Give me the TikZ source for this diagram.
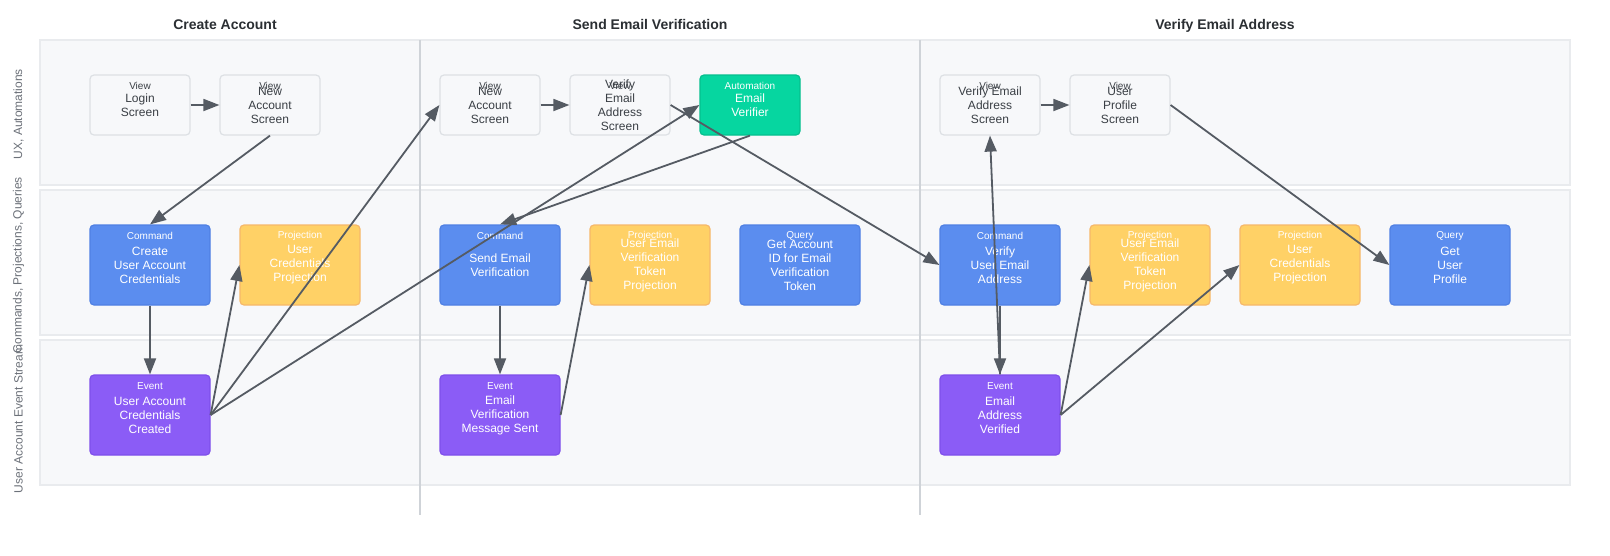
\documentclass[tikz,border=0pt]{standalone}
\usepackage{fontspec}
\setmainfont{Liberation Sans}
\usetikzlibrary{arrows.meta}
\definecolor{lanefill}{HTML}{F7F8FA}
\definecolor{laneborder}{HTML}{E9EBEE}
\definecolor{divider}{HTML}{CFD3D8}
\definecolor{viewfill}{HTML}{F7F8FA}
\definecolor{viewborder}{HTML}{DDE0E4}
\definecolor{viewtext}{HTML}{3A3F45}
\definecolor{autofill}{HTML}{06D6A0}
\definecolor{autoborder}{HTML}{05BF8E}
\definecolor{cmdfill}{HTML}{5B8DEF}
\definecolor{cmdborder}{HTML}{4F80E3}
\definecolor{projfill}{HTML}{FFD166}
\definecolor{projborder}{HTML}{F6B86A}
\definecolor{evtfill}{HTML}{8B5CF6}
\definecolor{evtborder}{HTML}{7E4FEA}
\definecolor{arrowcol}{HTML}{555B63}
\definecolor{titlecol}{HTML}{2B2F33}
\definecolor{lanetext}{HTML}{6C7179}
\newcommand{\mainsz}{\fontsize{12}{14}\selectfont}
\newcommand{\typesz}{\fontsize{10}{12}\selectfont}
\begin{document}
\begin{tikzpicture}[x=1pt,y=-1pt,
  lanebox/.style={fill=lanefill,draw=laneborder,line width=1.5pt},
  divline/.style={draw=divider,line width=1.8pt},
  titletxt/.style={font=\fontsize{14}{16}\selectfont\bfseries,text=titlecol,inner sep=0pt,anchor=base},
  lanetxt/.style={font=\mainsz,text=lanetext,rotate=90,inner sep=0pt},
  box/.style={rectangle,rounded corners=4pt,line width=1.2pt,inner sep=0pt,align=center,font=\mainsz},
  viewbox/.style={box,fill=viewfill,draw=viewborder,text=viewtext,minimum width=100pt,minimum height=60pt},
  autobox/.style={box,fill=autofill,draw=autoborder,text=white,minimum width=100pt,minimum height=60pt},
  bigbox/.style={box,text=white,minimum width=120pt,minimum height=80pt},
  cmdbox/.style={bigbox,fill=cmdfill,draw=cmdborder},
  projbox/.style={bigbox,fill=projfill,draw=projborder},
  evtbox/.style={bigbox,fill=evtfill,draw=evtborder},
  typelbl/.style={font=\typesz,inner sep=0pt},
  flow/.style={draw=arrowcol,line width=1.8pt,-{Triangle[length=16pt,width=12pt]},shorten >=0pt}
]
\useasboundingbox (0,0) rectangle (1610,555);
\fill[white] (0,0) rectangle (1610,555);

% lanes
\draw[lanebox] (40,40) rectangle (1570,185);
\draw[lanebox] (40,190) rectangle (1570,335);
\draw[lanebox] (40,340) rectangle (1570,485);

% dividers
\draw[divline] (420,40) -- (420,515);
\draw[divline] (920,40) -- (920,515);

% titles
\node[titletxt] (t1) at (225,29) {Create Account};
\node[titletxt] (t2) at (650,29) {Send Email Verification};
\node[titletxt] (t3) at (1225,29) {Verify Email Address};

% lane labels
\node[lanetxt] (l1) at (18.5,114) {UX, Automations};
\node[lanetxt] (l2) at (18.5,265) {Commands, Projections, Queries};
\node[lanetxt] (l3) at (18.5,419) {User Account Event Stream};

% row 1
\node[viewbox] (login) at (140,105) {Login\\Screen};
\node[viewbox] (newacc1) at (270,105) {New\\Account\\Screen};
\node[viewbox] (newacc2) at (490,105) {New\\Account\\Screen};
\node[viewbox] (verscr1) at (620,105) {Verify\\Email\\Address\\Screen};
\node[autobox] (verifier) at (750,105) {Email\\Verifier};
\node[viewbox] (verscr2) at (990,105) {Verify Email\\Address\\Screen};
\node[viewbox] (profile) at (1120,105) {User\\Profile\\Screen};

% row 2
\node[cmdbox] (createcmd) at (150,265) {Create\\User Account\\Credentials};
\node[projbox] (credproj1) at (300,265) {User\\Credentials\\Projection};
\node[cmdbox] (sendcmd) at (500,265) {Send Email\\Verification};
\node[projbox] (tokproj1) at (650,265) {User Email\\Verification\\Token\\Projection};
\node[cmdbox] (getid) at (800,265) {Get Account\\ID for Email\\Verification\\Token};
\node[cmdbox] (verifycmd) at (1000,265) {Verify\\User Email\\Address};
\node[projbox] (tokproj2) at (1150,265) {User Email\\Verification\\Token\\Projection};
\node[projbox] (credproj2) at (1300,265) {User\\Credentials\\Projection};
\node[cmdbox] (getprofile) at (1450,265) {Get\\User\\Profile};

% row 3
\node[evtbox] (created) at (150,415) {User Account\\Credentials\\Created};
\node[evtbox] (msgsent) at (500,415) {Email\\Verification\\Message Sent};
\node[evtbox] (verified) at (1000,415) {Email\\Address\\Verified};

% type labels
\foreach \n in {login,newacc1,newacc2,verscr1,verscr2,profile}
  \node[typelbl,text=viewtext] (\n-t) at ([yshift=-12pt]\n.north) {View};
\node[typelbl,text=white] (verifier-t) at ([yshift=-12pt]verifier.north) {Automation};
\foreach \n in {createcmd,sendcmd,verifycmd}
  \node[typelbl,text=white] (\n-t) at ([yshift=-12pt]\n.north) {Command};
\foreach \n in {credproj1,tokproj1,tokproj2,credproj2}
  \node[typelbl,text=white] (\n-t) at ([yshift=-12pt]\n.north) {Projection};
\foreach \n in {getid,getprofile}
  \node[typelbl,text=white] (\n-t) at ([yshift=-12pt]\n.north) {Query};
\foreach \n in {created,msgsent,verified}
  \node[typelbl,text=white] (\n-t) at ([yshift=-12pt]\n.north) {Event};

% connectors
\draw[flow] (login.east) -- (newacc1.west);
\draw[flow] (newacc1.south) -- (createcmd.north);
\draw[flow] (createcmd.south) -- (created.north);
\draw[flow] (created.east) -- (credproj1.west);
\draw[flow] (created.east) -- (newacc2.west);
\draw[flow] (created.east) -- (verifier.west);
\draw[flow] (newacc2.east) -- (verscr1.west);
\draw[flow] (verifier.south) -- (sendcmd.north);
\draw[flow] (sendcmd.south) -- (msgsent.north);
\draw[flow] (msgsent.east) -- (tokproj1.west);
\draw[flow] (verscr1.east) -- (verifycmd.west);
\draw[flow] (verscr2.east) -- (profile.west);
\draw[flow] (profile.east) -- (getprofile.west);
\draw[flow] (verifycmd.south) -- (verified.north);
\draw[flow] (verified.north) -- (verscr2.south);
\draw[flow] (verified.east) -- (tokproj2.west);
\draw[flow] (verified.east) -- (credproj2.west);
\end{tikzpicture}
\end{document}
